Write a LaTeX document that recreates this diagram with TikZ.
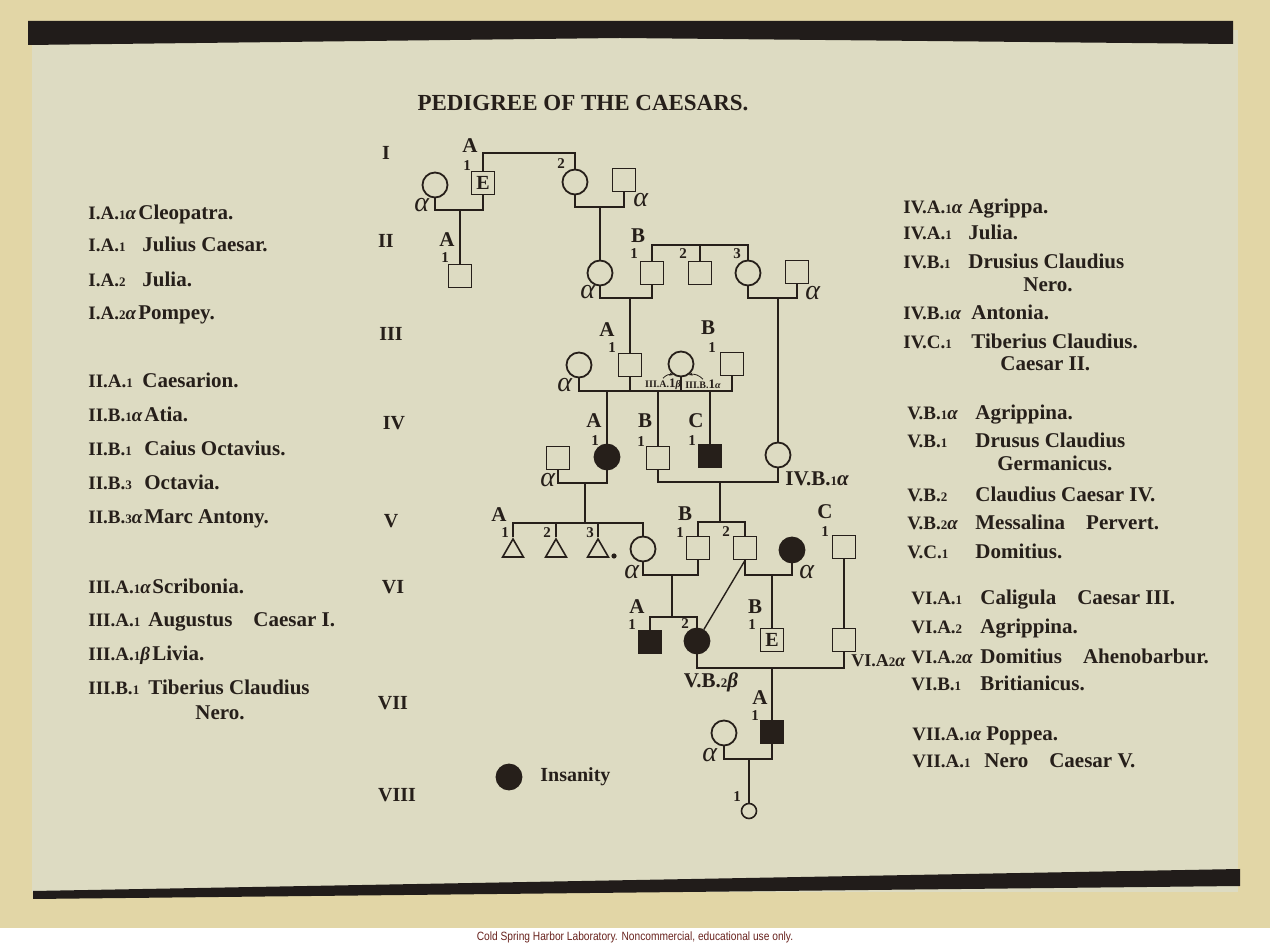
\documentclass[tikz,border=0pt]{standalone}
\usepackage{fontspec}
\setmainfont{Liberation Serif}
\setsansfont{Liberation Sans}
\usetikzlibrary{shapes.geometric,arrows.meta}

\newcommand{\pno}[1]{{\fontsize{6.5}{7}\selectfont #1}}
\newcommand{\alp}{\textit{α}}
\newcommand{\bet}{\textit{β}}
\newcommand{\key}[2]{\makebox[#1][l]{\fontsize{9.5}{11}\selectfont #2}}

\begin{document}
\begin{tikzpicture}[x=0.5pt,y=-0.5pt,
  link/.style={draw=inkColor,line width=0.7pt},
  male/.style={rectangle,draw=inkColor,line width=0.9pt,minimum size=11.5pt,inner sep=0pt,
    text=inkColor,font=\fontsize{10}{10}\selectfont\bfseries},
  female/.style={circle,draw=inkColor,line width=0.9pt,minimum size=12.5pt,inner sep=0pt},
  unknown/.style={regular polygon,regular polygon sides=3,draw=inkColor,line width=0.8pt,
    minimum size=12pt,inner sep=0pt},
  insane/.style={fill=inkColor},
  gen/.style={text=inkColor,font=\fontsize{10.5}{11}\selectfont\bfseries,inner sep=0pt},
  num/.style={text=inkColor,font=\fontsize{7.5}{8}\selectfont\bfseries,inner sep=0pt},
  spouse/.style={text=inkColor,font=\fontsize{14}{14}\selectfont,inner sep=0pt},
  roman/.style={text=inkColor,font=\fontsize{10}{12}\selectfont\bfseries,inner sep=0pt},
  entry/.style={text=inkColor,font=\fontsize{10.5}{12}\selectfont\bfseries,anchor=base west,inner sep=0pt}]
\definecolor{pageColor}{RGB}{226,214,166}
\definecolor{sheetColor}{RGB}{221,219,194}
\definecolor{bandColor}{RGB}{33,28,26}
\definecolor{inkColor}{RGB}{38,31,26}
\definecolor{footColor}{RGB}{105,35,30}

% page, sheet and dark bands
\fill[pageColor] (0,0) rectangle (1270,945);
\useasboundingbox (0,0) rectangle (1270,945);
\fill[sheetColor] (32,30) rectangle (1238,892);
\fill[bandColor] (28,21) -- (1233,21) -- (1233,44) -- (620,38) -- (28,45) -- cycle;
\fill[bandColor] (33,891) -- (1240,869) -- (1240,886) -- (33,899) -- cycle;
\fill[white] (0,928) rectangle (1270,945);
\node[text=footColor,font=\sffamily\fontsize{6}{7}\selectfont,xscale=0.85] (foot) at (635,937)
  {Cold Spring Harbor Laboratory. Noncommercial, educational use only.};

\node[text=inkColor,font=\fontsize{11.5}{13}\selectfont\bfseries] (title) at (583,103) {PEDIGREE OF THE CAESARS.};

% generations
\node[roman] (gI) at (386,153) {I};
\node[roman] (gII) at (386,241) {II};
\node[roman] (gIII) at (391,334) {III};
\node[roman] (gIV) at (394,423) {IV};
\node[roman] (gV) at (391,521) {V};
\node[roman] (gVI) at (393,587) {VI};
\node[roman] (gVII) at (393,703) {VII};
\node[roman] (gVIII) at (397,795) {VIII};

% left list
\node[entry] (eCleo) at (88,220) {\key{25pt}{I.A.\pno{1}\alp}Cleopatra.};
\node[entry] (eJulius) at (88,252) {\key{27pt}{I.A.\pno{1}}Julius Caesar.};
\node[entry] (eJulia) at (88,287) {\key{27pt}{I.A.\pno{2}}Julia.};
\node[entry] (ePompey) at (88,320) {\key{25pt}{I.A.\pno{2}\alp}Pompey.};
\node[entry] (eCaesarion) at (88,388) {\key{27pt}{II.A.\pno{1}}Caesarion.};
\node[entry] (eAtia) at (88,422) {\key{28pt}{II.B.\pno{1}\alp}Atia.};
\node[entry] (eCaius) at (88,456) {\key{28pt}{II.B.\pno{1}}Caius Octavius.};
\node[entry] (eOctavia) at (88,490) {\key{28pt}{II.B.\pno{3}}Octavia.};
\node[entry] (eAntony) at (88,524) {\key{28pt}{II.B.\pno{3}\alp}Marc Antony.};
\node[entry] (eScribonia) at (88,594) {\key{32pt}{III.A.\pno{1}\alp}Scribonia.};
\node[entry] (eAugustus) at (88,627) {\key{30pt}{III.A.\pno{1}}Augustus\quad Caesar I.};
\node[entry] (eLivia) at (88,661) {\key{32pt}{III.A.\pno{1}\bet}Livia.};
\node[entry] (eTiberiusN) at (88,695) {\key{30pt}{III.B.\pno{1}}Tiberius Claudius};
\node[entry] (eTiberiusNb) at (195,720) {Nero.};

% right list
\node[entry] (eAgrippa) at (903,214) {\key{32.5pt}{IV.A.\pno{1}\alp}Agrippa.};
\node[entry] (eJuliaIV) at (903,240) {\key{32.5pt}{IV.A.\pno{1}}Julia.};
\node[entry] (eDrusus) at (903,269) {\key{32.5pt}{IV.B.\pno{1}}Drusius Claudius};
\node[entry] (eDrususb) at (1023,292) {Nero.};
\node[entry] (eAntonia) at (903,320) {\key{34pt}{IV.B.\pno{1}\alp}Antonia.};
\node[entry] (eTiberiusC) at (903,349) {\key{34pt}{IV.C.\pno{1}}Tiberius Claudius.};
\node[entry] (eTiberiusCb) at (1000,371) {Caesar II.};
\node[entry] (eAgrippinaV) at (907,420) {\key{34pt}{V.B.\pno{1}\alp}Agrippina.};
\node[entry] (eGermanicus) at (907,448) {\key{34pt}{V.B.\pno{1}}Drusus Claudius};
\node[entry] (eGermanicusb) at (997,471) {Germanicus.};
\node[entry] (eClaudius) at (907,502) {\key{34pt}{V.B.\pno{2}}Claudius Caesar IV.};
\node[entry] (eMessalina) at (907,530) {\key{34pt}{V.B.\pno{2}\alp}Messalina\quad Pervert.};
\node[entry] (eDomitiusV) at (907,559) {\key{34pt}{V.C.\pno{1}}Domitius.};
\node[entry] (eCaligula) at (911,605) {\key{34.5pt}{VI.A.\pno{1}}Caligula\quad Caesar III.};
\node[entry] (eAgrippinaVI) at (911,634) {\key{34.5pt}{VI.A.\pno{2}}Agrippina.};
\node[entry] (eDomitiusA) at (911,664) {\key{34.5pt}{VI.A.\pno{2}\alp}Domitius\quad Ahenobarbur.};
\node[entry] (eBritannicus) at (911,691) {\key{34.5pt}{VI.B.\pno{1}}Britianicus.};
\node[entry] (ePoppea) at (912,741) {\key{37pt}{VII.A.\pno{1}\alp}Poppea.};
\node[entry] (eNero) at (912,768) {\key{36pt}{VII.A.\pno{1}}Nero\quad Caesar V.};

% generation I
\node[female] (cleo) at (435,185) {};
\node[male] (caesar) at (483,183) {E};
\node[female] (julia) at (575,182) {};
\node[male] (pompey) at (624,180) {};
\node[gen] (lcaesarA) at (470,146) {A};
\node[num] (lcaesar1) at (467,166) {1};
\node[num] (ljulia2) at (561,164) {2};
\node[spouse] (lcleo) at (422,205) {\alp};
\node[spouse] (lpompey) at (641,200) {\alp};

% generation II
\node[male] (caesarion) at (460,276) {};
\node[female] (atia) at (600,273) {};
\node[male] (octavius) at (652,273) {};
\node[male] (octaviusb) at (700,273) {};
\node[female] (octavia) at (748,273) {};
\node[male] (antony) at (797,272) {};
\node[gen] (lcaesarionA) at (447,240) {A};
\node[num] (lcaesarion1) at (445,258) {1};
\node[gen] (loctaviusB) at (638,236) {B};
\node[num] (loctavius1) at (634,254) {1};
\node[num] (loctaviusb2) at (683,254) {2};
\node[num] (loctavia3) at (737,254) {3};
\node[spouse] (latia) at (588,292) {\alp};
\node[spouse] (lantony) at (813,293) {\alp};

% generation III
\node[female] (scribonia) at (579,365) {};
\node[male] (augustus) at (630,365) {};
\node[female] (livia) at (681,364) {};
\node[male] (tiberiusN) at (732,364) {};
\node[gen] (laugustusA) at (607,330) {A};
\node[num] (laugustus1) at (612,348) {1};
\node[gen] (ltiberiusNB) at (708,328) {B};
\node[num] (ltiberiusN1) at (712,348) {1};
\node[spouse] (lscribonia) at (565,385) {\alp};
\node[text=inkColor,font=\fontsize{5}{6}\selectfont\bfseries,inner sep=0pt] (lliviaA) at (663,384) {III.A.\pno{1}\bet};
\node[text=inkColor,font=\fontsize{5}{6}\selectfont\bfseries,inner sep=0pt] (lliviaB) at (703,384) {III.B.\pno{1}\alp};

% generation IV
\node[male] (agrippa) at (558,458) {};
\node[female,insane] (juliaIV) at (607,457) {};
\node[male] (drusus) at (658,458) {};
\node[male,insane] (tiberiusC) at (710,456) {};
\node[female] (antonia) at (778,455) {};
\node[gen] (ljuliaIVA) at (594,421) {A};
\node[num] (ljuliaIV1) at (595,441) {1};
\node[gen] (ldrususB) at (645,421) {B};
\node[num] (ldrusus1) at (641,442) {1};
\node[gen] (ltiberiusCC) at (696,421) {C};
\node[num] (ltiberiusC1) at (692,441) {1};
\node[spouse] (lagrippa) at (548,480) {\alp};
\node[entry] (lantonia) at (785,486) {IV.B.\pno{1}\alp};

% generation V
\node[unknown] (triA) at (513,551) {};
\node[unknown] (triB) at (556,551) {};
\node[unknown] (triC) at (598,551) {};
\fill[inkColor] (614,556) circle (1.3pt);
\node[female] (agrippinaV) at (643,549) {};
\node[male] (germanicus) at (698,548) {};
\node[male] (claudius) at (745,548) {};
\node[female,insane] (messalina) at (792,550) {};
\node[male] (domitiusV) at (844,547) {};
\node[gen] (ltriA) at (499,515) {A};
\node[num] (ltriA1) at (505,533) {1};
\node[num] (ltriB2) at (547,533) {2};
\node[num] (ltriC3) at (590,533) {3};
\node[spouse] (lagrippinaV) at (632,572) {\alp};
\node[gen] (lgermanicusB) at (685,514) {B};
\node[num] (lgermanicus1) at (680,533) {1};
\node[num] (lclaudius2) at (726,532) {2};
\node[spouse] (lmessalina) at (807,572) {\alp};
\node[gen] (ldomitiusVC) at (825,512) {C};
\node[num] (ldomitiusV1) at (825,532) {1};

% generation VI
\node[male,insane] (caligula) at (650,642) {};
\node[female,insane] (agrippinaVI) at (697,641) {};
\node[male] (britannicus) at (772,640) {E};
\node[male] (domitiusA) at (844,640) {};
\node[gen] (lcaligulaA) at (637,607) {A};
\node[num] (lcaligula1) at (632,625) {1};
\node[num] (lagrippinaVI2) at (685,624) {2};
\node[gen] (lbritannicusB) at (755,607) {B};
\node[num] (lbritannicus1) at (752,625) {1};
\node[entry,font=\fontsize{9}{11}\selectfont\bfseries] (ldomitiusA) at (851,667) {VI.A\pno{2}\alp};
\node[entry,anchor=base] (lagrippinaVI) at (711,688) {V.B.\pno{2}\bet};

% generation VII and VIII
\node[female] (poppea) at (724,733) {};
\node[male,insane] (nero) at (772,732) {};
\node[gen] (lneroA) at (760,698) {A};
\node[num] (lnero1) at (755,716) {1};
\node[spouse] (lpoppea) at (710,755) {\alp};
\node[female,minimum size=7.5pt,line width=0.8pt] (neroChild) at (749,811) {};
\node[num] (lneroChild1) at (737,797) {1};

% legend
\node[female,insane] (legendDot) at (509,777) {};
\node[text=inkColor,font=\fontsize{10}{12}\selectfont\bfseries,anchor=west,inner sep=0pt] (legendText) at (540,777) {Insanity};

% sibships and matings
\coordinate (sI) at (530,153);
\draw[link] (caesar.north) |- (sI) -| (julia.north);
\coordinate (mCleo) at (460,210);
\draw[link] (cleo.south) |- (mCleo) -| (caesar.south);
\draw[link] (mCleo) -- (caesarion.north);
\coordinate (mJulia) at (600,207);
\draw[link] (julia.south) |- (mJulia) -| (pompey.south);
\draw[link] (mJulia) -- (atia.north);

\coordinate (sIIB) at (700,245);
\draw[link] (octavius.north) |- (sIIB) -| (octavia.north);
\draw[link] (sIIB) -- (octaviusb.north);
\coordinate (mAtia) at (630,298);
\draw[link] (atia.south) |- (mAtia) -| (octavius.south);
\draw[link] (mAtia) -- (augustus.north);
\coordinate (mOctavia) at (778,298);
\draw[link] (octavia.south) |- (mOctavia) -| (antony.south);
\draw[link] (mOctavia) -- (antonia.north);

\coordinate (mIII) at (607,391);
\draw[link] (scribonia.south) |- (mIII) -| (tiberiusN.south);
\draw[link] (augustus.south) -- (augustus.south |- mIII);
\draw[link] (livia.south) -- (livia.south |- mIII);
\draw[link] (mIII) -- (juliaIV.north);
\draw[link] (drusus.north) -- (drusus.north |- mIII);
\draw[link] (tiberiusC.north) -- (tiberiusC.north |- mIII);
\draw[link,line width=0.4pt,-{Stealth[length=2pt]}] (lliviaA.north) to[bend left=30] (livia.235);
\draw[link,line width=0.4pt,-{Stealth[length=2pt]}] (lliviaB.north) to[bend right=30] (livia.305);

\coordinate (mAgrippa) at (585,483);
\draw[link] (agrippa.south) |- (mAgrippa) -| (juliaIV.south);
\coordinate (sVA) at (585,523);
\draw[link] (mAgrippa) -- (sVA);
\draw[link] (triA.north) |- (sVA) -| (agrippinaV.north);
\draw[link] (triB.north) -- (triB.north |- sVA);
\draw[link] (triC.north) -- (triC.north |- sVA);
\coordinate (mDrusus) at (720,482);
\draw[link] (drusus.south) |- (mDrusus) -| (antonia.south);
\coordinate (sVB) at (720,522);
\draw[link] (mDrusus) -- (sVB);
\draw[link] (germanicus.north) |- (sVB) -| (claudius.north);

\coordinate (mGermanicus) at (672,575);
\draw[link] (agrippinaV.south) |- (mGermanicus) -| (germanicus.south);
\coordinate (sVIA) at (672,617);
\draw[link] (mGermanicus) -- (sVIA);
\draw[link] (caligula.north) |- (sVIA) -| (agrippinaVI.north);
\coordinate (mClaudius) at (772,575);
\draw[link] (claudius.south) |- (mClaudius) -| (messalina.south);
\draw[link] (mClaudius) -- (britannicus.north);
\draw[link] (claudius.south) -- (agrippinaVI);
\draw[link] (domitiusV.south) -- (domitiusA.north);

\coordinate (mAgrippinaVI) at (772,668);
\draw[link] (agrippinaVI.south) |- (mAgrippinaVI) -| (domitiusA.south);
\draw[link] (mAgrippinaVI) -- (nero.north);
\coordinate (mNero) at (749,759);
\draw[link] (poppea.south) |- (mNero) -| (nero.south);
\draw[link] (mNero) -- (neroChild.north);
\end{tikzpicture}
\end{document}
